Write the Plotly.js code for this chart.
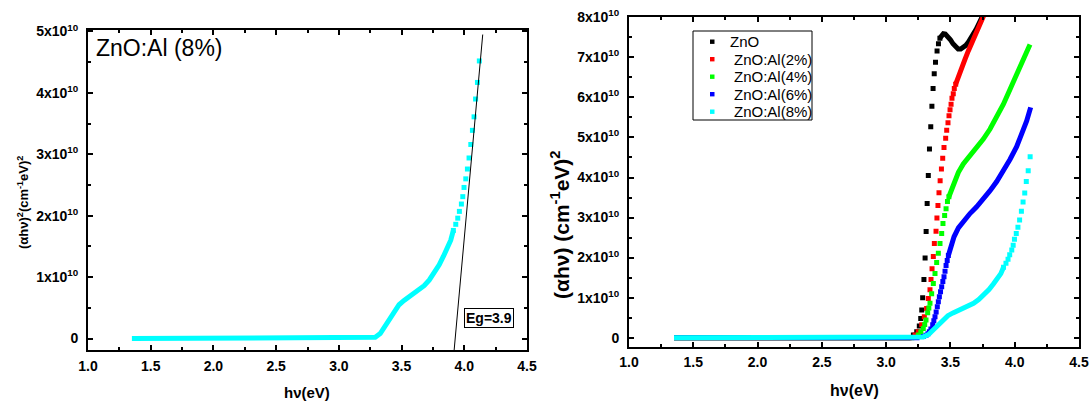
<!DOCTYPE html>
<html>
<head>
<meta charset="utf-8">
<script src="https://cdn.plot.ly/plotly-3.0.1.min.js"></script>
<style>html,body{margin:0;padding:0;background:#fff;}#chart{width:1092px;height:403px;}</style>
</head>
<body>
<div id="chart"></div>
<script>
// Values of (alpha h nu)^2 are in units of 10^10 (cm^-1 eV)^2; photon energy in eV.
const xTicks = [1.0, 1.5, 2.0, 2.5, 3.0, 3.5, 4.0, 4.5];
const xTickText = ["1.0", "1.5", "2.0", "2.5", "3.0", "3.5", "4.0", "4.5"];
const yTicksLeft = [0, 1, 2, 3, 4, 5];
const yTicksRight = [0, 1, 2, 3, 4, 5, 6, 7, 8];
const seriesNames = ["ZnO", "ZnO:Al(2%)", "ZnO:Al(4%)", "ZnO:Al(6%)", "ZnO:Al(8%)"];
const seriesColors = ["#000000", "#ff0000", "#00ff00", "#0000ff", "#00ffff"];

// ZnO (black)
const zno_line_x = [1.35, 3.19, null, 3.418, 3.43, 3.445, 3.46, 3.48, 3.50, 3.52, 3.54, 3.56, 3.58, 3.60, 3.62, 3.64, 3.66, 3.68, 3.70, 3.72, 3.74, 3.76];
const zno_line_y = [0, 0, null, 7.48, 7.55, 7.59, 7.58, 7.52, 7.44, 7.34, 7.26, 7.21, 7.21, 7.25, 7.30, 7.38, 7.47, 7.58, 7.70, 7.83, 7.96, 8.10];
const zno_pts_x = [3.212, 3.238, 3.258, 3.269, 3.277, 3.284, 3.294, 3.303, 3.311, 3.319, 3.328, 3.337, 3.347, 3.356, 3.365, 3.374, 3.384, 3.396, 3.407, 3.418];
const zno_pts_y = [0.07, 0.15, 0.29, 0.48, 0.69, 1.00, 1.45, 1.99, 2.65, 3.35, 4.05, 4.71, 5.27, 5.78, 6.22, 6.59, 6.88, 7.16, 7.34, 7.48];

// ZnO:Al(2%) (red)
const al2_line_x = [1.35, 3.20, null, 3.541, 3.553, 3.569, 3.588, 3.613, 3.639, 3.678, 3.717, 3.760];
const al2_line_y = [0, 0, null, 6.33, 6.45, 6.58, 6.74, 6.95, 7.16, 7.45, 7.74, 8.05];
const al2_pts_x = [3.225, 3.250, 3.277, 3.297, 3.315, 3.328, 3.341, 3.349, 3.357, 3.367, 3.375, 3.388, 3.395, 3.403, 3.411, 3.420, 3.430, 3.440, 3.450, 3.463, 3.471, 3.481, 3.489, 3.497, 3.505, 3.512, 3.522, 3.530, 3.541];
const al2_pts_y = [0.07, 0.15, 0.32, 0.52, 0.73, 0.98, 1.20, 1.45, 1.72, 2.03, 2.35, 2.66, 2.99, 3.30, 3.62, 3.92, 4.21, 4.48, 4.75, 4.98, 5.18, 5.37, 5.54, 5.69, 5.83, 5.98, 6.09, 6.22, 6.33];

// ZnO:Al(4%) (green)
const al4_line_x = [1.35, 3.22, null, 3.488, 3.502, 3.528, 3.562, 3.600, 3.652, 3.704, 3.756, 3.808, 3.860, 3.912, 3.963, 4.015, 4.067, 4.119];
const al4_line_y = [0, 0, null, 3.52, 3.65, 3.88, 4.13, 4.34, 4.54, 4.75, 4.96, 5.21, 5.50, 5.83, 6.20, 6.58, 6.95, 7.32];
const al4_pts_x = [3.25, 3.27, 3.289, 3.300, 3.310, 3.323, 3.332, 3.341, 3.354, 3.367, 3.380, 3.393, 3.406, 3.419, 3.432, 3.442, 3.455, 3.466, 3.477, 3.488];
const al4_pts_y = [0.07, 0.14, 0.23, 0.33, 0.44, 0.62, 0.74, 0.86, 1.10, 1.35, 1.60, 1.88, 2.11, 2.35, 2.60, 2.85, 3.05, 3.22, 3.40, 3.52];

// ZnO:Al(6%) (blue)
const al6_line_x = [1.35, 3.26, null, 3.484, 3.502, 3.528, 3.562, 3.600, 3.652, 3.704, 3.756, 3.808, 3.860, 3.912, 3.963, 4.015, 4.054, 4.093, 4.124];
const al6_line_y = [0, 0, null, 2.05, 2.28, 2.52, 2.74, 2.91, 3.10, 3.27, 3.45, 3.67, 3.90, 4.15, 4.45, 4.77, 5.08, 5.41, 5.75];
const al6_pts_x = [3.29, 3.31, 3.325, 3.336, 3.348, 3.362, 3.371, 3.380, 3.389, 3.398, 3.406, 3.414, 3.423, 3.432, 3.441, 3.450, 3.458, 3.466, 3.475, 3.484];
const al6_pts_y = [0.03, 0.06, 0.10, 0.15, 0.22, 0.32, 0.42, 0.52, 0.64, 0.77, 0.90, 1.02, 1.15, 1.27, 1.40, 1.52, 1.66, 1.80, 1.93, 2.05];

// ZnO:Al(8%) (cyan) - same data in both panels
const al8_line_x = [1.35, 3.25, 3.29, 3.33, 3.37, 3.41, 3.445, 3.48, 3.52, 3.56, 3.60, 3.64, 3.68, 3.72, 3.76, 3.80, 3.834, 3.86, 3.892, 3.913];
const al8_line_y = [0, 0, 0.02, 0.08, 0.20, 0.34, 0.45, 0.55, 0.62, 0.68, 0.73, 0.79, 0.86, 0.95, 1.07, 1.20, 1.34, 1.45, 1.60, 1.76];
const al8_pts_x = [3.913, 3.932, 3.948, 3.961, 3.977, 3.988, 3.998, 4.012, 4.025, 4.038, 4.052, 4.065, 4.078, 4.090, 4.105, 4.120];
const al8_pts_y = [1.76, 1.86, 1.96, 2.07, 2.19, 2.31, 2.46, 2.60, 2.76, 2.94, 3.16, 3.39, 3.61, 3.90, 4.17, 4.52];

// Linear fit (tangent) for band gap in the left panel
const fit_x = [3.919, 4.147];
const fit_y = [-0.19, 4.95];
const egLabel = "Eg=3.9";
const egPos = [4.195, 0.337];

const FONT = "Arial, 'Liberation Sans', Helvetica, sans-serif";
const W = 1092, H = 403;
function px(x) { return x / W; }
function py(y) { return (H - y) / H; }

function sciText(v) { return v === 0 ? "<b>0</b>" : "<b>" + v + "x10<sup>10</sup></b>"; }

const allSeries = [
  [zno_line_x, zno_line_y, zno_pts_x, zno_pts_y],
  [al2_line_x, al2_line_y, al2_pts_x, al2_pts_y],
  [al4_line_x, al4_line_y, al4_pts_x, al4_pts_y],
  [al6_line_x, al6_line_y, al6_pts_x, al6_pts_y],
  [al8_line_x, al8_line_y, al8_pts_x, al8_pts_y]
];

const traces = [];
// Left panel: ZnO:Al(8%)
traces.push({x: al8_line_x, y: al8_line_y, xaxis: 'x', yaxis: 'y', mode: 'lines', line: {color: seriesColors[4], width: 5}, showlegend: false, hoverinfo: 'skip'});
traces.push({x: al8_pts_x, y: al8_pts_y, xaxis: 'x', yaxis: 'y', mode: 'markers', marker: {symbol: 'square', size: 5, color: seriesColors[4], line: {width: 0}}, showlegend: false});
traces.push({x: fit_x, y: fit_y, xaxis: 'x', yaxis: 'y', mode: 'lines', line: {color: '#000', width: 1}, showlegend: false});

// Right panel: all five
allSeries.forEach((s, i) => {
  traces.push({x: s[0], y: s[1], xaxis: 'x2', yaxis: 'y2', mode: 'lines', line: {color: seriesColors[i], width: 5}, connectgaps: false, showlegend: false, hoverinfo: 'skip'});
  traces.push({x: s[2], y: s[3], xaxis: 'x2', yaxis: 'y2', mode: 'markers', name: seriesNames[i], marker: {symbol: 'square', size: 5, color: seriesColors[i], line: {width: 0}}, showlegend: false});
});

const tickFont = {family: FONT, size: 14, color: '#000'};
function xAxis(domain, anchor) {
  return {
    domain: domain, anchor: anchor, range: [1.0, 4.5], autorange: false,
    tickmode: 'array', tickvals: xTicks, ticktext: xTickText.map(t => '<b>' + t + '</b>'),
    showline: true, linewidth: 2, linecolor: '#000', mirror: 'allticks',
    ticks: 'inside', ticklen: 5, tickwidth: 1.5, tickcolor: '#000',
    minor: {ticks: 'inside', ticklen: 3, tickwidth: 1.5, tickcolor: '#000', tickmode: 'linear', tick0: 1.0, dtick: 0.25},
    showgrid: false, zeroline: false, tickfont: tickFont, automargin: false, ticklabelstandoff: 2
  };
}
function yAxis(domain, anchor, range, vals) {
  return {
    domain: domain, anchor: anchor, range: range, autorange: false,
    tickmode: 'array', tickvals: vals, ticktext: vals.map(sciText),
    showline: true, linewidth: 2, linecolor: '#000', mirror: 'allticks',
    ticks: 'inside', ticklen: 5, tickwidth: 1.5, tickcolor: '#000',
    minor: {ticks: 'inside', ticklen: 3, tickwidth: 1.5, tickcolor: '#000', tickmode: 'linear', tick0: 0, dtick: 0.5},
    showgrid: false, zeroline: false, tickfont: tickFont, automargin: false, ticklabelstandoff: 5
  };
}

// Legend box (pixel positions converted to paper fractions)
const legendBox = {x0: 693, x1: 812, y0: 31, y1: 120};
const legendRowY = [41.7, 59.2, 76.7, 94.2, 111.7];
const shapes = [{type: 'rect', xref: 'paper', yref: 'paper', x0: px(legendBox.x0), x1: px(legendBox.x1), y0: py(legendBox.y1), y1: py(legendBox.y0), line: {color: '#000', width: 1}, fillcolor: 'rgba(255,255,255,1)', layer: 'above'}];
const annotations = [];
seriesNames.forEach((n, i) => {
  shapes.push({type: 'rect', xref: 'paper', yref: 'paper', x0: px(710), x1: px(714.5), y0: py(legendRowY[i] + 2.2), y1: py(legendRowY[i] - 2.2), line: {width: 0}, fillcolor: seriesColors[i], layer: 'above'});
  annotations.push({xref: 'paper', yref: 'paper', x: px(i === 0 ? 728 : 732), y: py(legendRowY[i]), text: n, showarrow: false, font: {family: FONT, size: 15, color: '#000'}, xanchor: 'left', yanchor: 'middle'});
});

annotations.push(
  {xref: 'paper', yref: 'paper', x: px(307), y: py(392), text: '<b>hν(eV)</b>', showarrow: false, font: {family: FONT, size: 15, color: '#000'}, xanchor: 'center', yanchor: 'middle'},
  {xref: 'paper', yref: 'paper', x: px(854), y: py(390), text: '<b>hν(eV)</b>', showarrow: false, font: {family: FONT, size: 16, color: '#000'}, xanchor: 'center', yanchor: 'middle'},
  {xref: 'paper', yref: 'paper', x: px(23), y: py(203), text: '<b>(αhν)<sup>2</sup>(cm<sup>-1</sup>eV)<sup>2</sup></b>', showarrow: false, textangle: -90, font: {family: FONT, size: 13, color: '#000'}, xanchor: 'center', yanchor: 'middle'},
  {xref: 'paper', yref: 'paper', x: px(560), y: py(225), text: '<b>(αhν) (cm<sup>-1</sup>eV)<sup>2</sup></b>', showarrow: false, textangle: -90, font: {family: FONT, size: 21, color: '#000'}, xanchor: 'center', yanchor: 'middle'},
  {xref: 'paper', yref: 'paper', x: px(94), y: py(48), text: 'ZnO:Al (8%)', showarrow: false, font: {family: FONT, size: 23, color: '#000'}, xanchor: 'left', yanchor: 'middle'},
  {xref: 'x', yref: 'y', x: egPos[0], y: egPos[1], text: '<b>' + egLabel + '</b>', showarrow: false, font: {family: FONT, size: 14, color: '#000'}, bordercolor: '#000', borderwidth: 1, borderpad: 1, bgcolor: '#fff', xanchor: 'center', yanchor: 'middle'}
);

const layout = {
  width: W, height: H,
  margin: {l: 0, r: 0, t: 0, b: 0},
  paper_bgcolor: '#fff', plot_bgcolor: '#fff',
  font: {family: FONT, color: '#000', size: 14},
  xaxis: xAxis([px(88), px(527)], 'y'),
  yaxis: yAxis([py(350), py(30)], 'x', [-0.187, 5.024], yTicksLeft),
  xaxis2: xAxis([px(629), px(1079)], 'y2'),
  yaxis2: yAxis([py(346.5), py(16.7)], 'x2', [-0.22, 8.015], yTicksRight),
  showlegend: false,
  shapes: shapes,
  annotations: annotations
};

Plotly.newPlot('chart', traces, layout, {displayModeBar: false});
</script>
</body>
</html>
